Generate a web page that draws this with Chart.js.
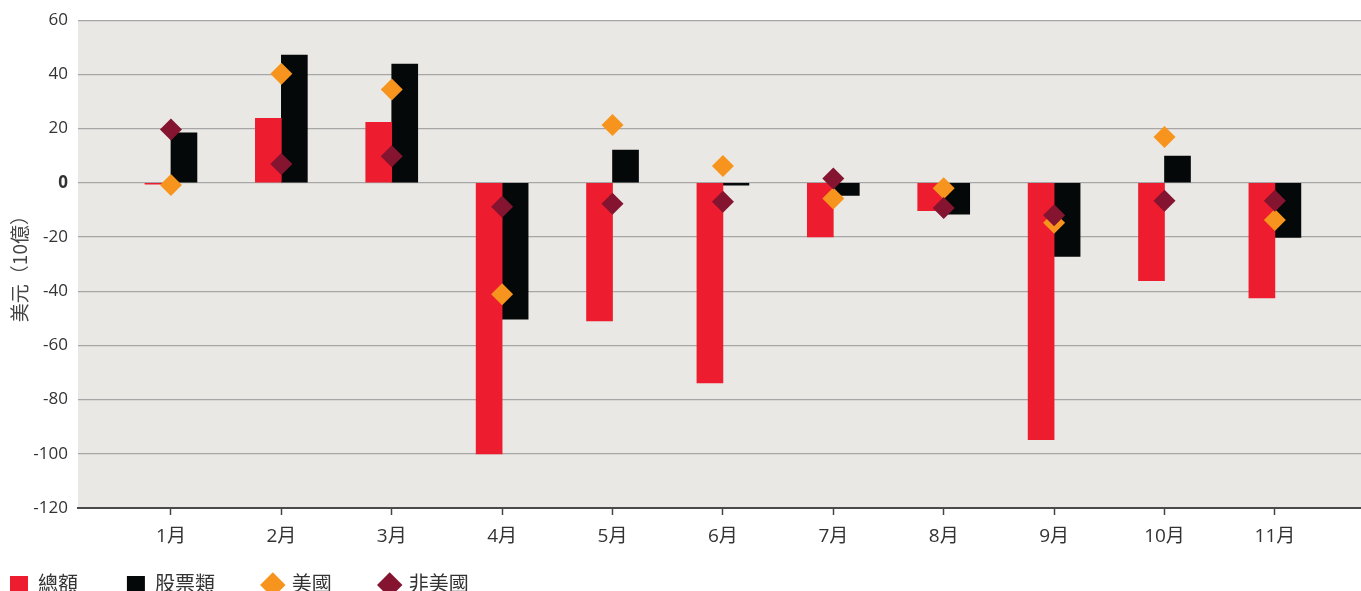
<!DOCTYPE html>
<html>
<head>
<meta charset="utf-8">
<script src="https://cdn.jsdelivr.net/npm/chart.js@4"></script>
<style>
  html, body { margin: 0; padding: 0; background: #fff; overflow: hidden; }
  #myChart { position: absolute; left: 0; top: 0; }
</style>
</head>
<body>
<canvas id="myChart" width="1361" height="605"></canvas>
<script>
var months = ["1月", "2月", "3月", "4月", "5月", "6月", "7月", "8月", "9月", "10月", "11月"];
var totalValues = [-0.5, 23.8, 22.3, -100, -51, -73.8, -20, -10.3, -94.8, -36.1, -42.5];
var equityValues = [18.4, 47.1, 43.8, -50.3, 12.1, -0.9, -4.7, -11.6, -27.2, 9.9, -20.2];
var usValues = [-0.8, 40.2, 34.4, -41.1, 21.3, 6.2, -5.8, -2, -14.7, 16.9, -13.7];
var nonUsValues = [19.7, 6.9, 9.8, -8.8, -7.7, -7, 1.6, -9.3, -12, -6.6, -6.6];
var yTicks = [60, 40, 20, 0, -20, -40, -60, -80, -100, -120];

function toPoints(values) {
  return values.map(function (v, i) { return { x: i + 1, y: v }; });
}

Chart.defaults.font.family = '"Open Sans", "Noto Sans CJK TC", sans-serif';
Chart.defaults.color = "#333333";

// grey plot background
var plotBg = {
  id: "plotBg",
  beforeDraw: function (chart) {
    var a = chart.chartArea, ctx = chart.ctx;
    ctx.save();
    ctx.fillStyle = "#EAE8E5";
    ctx.fillRect(a.left, a.top, a.right - a.left, a.bottom - a.top);
    ctx.restore();
  }
};

new Chart("myChart", {
  type: "bar",
  data: {
    datasets: [{
      label: "總額",
      data: toPoints(totalValues),
      backgroundColor: "#ED1C2E",
      pointStyle: "rect",
      barThickness: 26,
      order: 3
    }, {
      label: "股票類",
      data: toPoints(equityValues),
      backgroundColor: "#050808",
      pointStyle: "rect",
      barThickness: 26,
      order: 3
    }, {
      type: "scatter",
      label: "美國",
      data: toPoints(usValues),
      backgroundColor: "#F7941D",
      borderWidth: 0,
      pointStyle: "rectRot",
      pointRadius: 11,
      order: 1
    }, {
      type: "scatter",
      label: "非美國",
      data: toPoints(nonUsValues),
      backgroundColor: "#84142F",
      borderWidth: 0,
      pointStyle: "rectRot",
      pointRadius: 11,
      order: 0
    }]
  },
  options: {
    responsive: false,
    animation: false,
    layout: { autoPadding: false, padding: { top: 17, left: 0, right: 0, bottom: 0 } },
    scales: {
      x: {
        type: "linear",
        offset: false,
        min: 0.158,
        max: 11.78,
        afterBuildTicks: function (scale) {
          scale.ticks = months.map(function (m, i) { return { value: i + 1 }; });
        },
        afterFit: function (scale) {
          scale.height = 57;
          scale.paddingLeft = 0;
          scale.paddingRight = 0;
        },
        ticks: {
          padding: 10,
          font: { size: 19 },
          color: "#333333",
          callback: function (v) { return months[v - 1]; }
        },
        grid: {
          offset: false,
          drawOnChartArea: false,
          drawTicks: true,
          tickLength: 7,
          tickColor: "#444444",
          tickWidth: 1.5
        },
        border: { display: true, color: "#4a4a4a", width: 2 }
      },
      y: {
        min: -120,
        max: 60,
        afterBuildTicks: function (scale) {
          scale.ticks = yTicks.map(function (v) { return { value: v }; });
        },
        afterFit: function (scale) { scale.width = 78; },
        ticks: {
          padding: 10,
          color: "#333333",
          font: function (ctx) {
            return { size: 17, weight: ctx.tick && ctx.tick.value === 0 ? "bold" : "normal" };
          }
        },
        grid: {
          color: "#A6A6A6",
          lineWidth: 1.3,
          drawTicks: false
        },
        border: { display: false },
        title: {
          display: true,
          text: "美元（10億）",
          font: { size: 19, family: '"Noto Sans CJK TC", sans-serif' },
          color: "#444444",
          padding: { top: 8, bottom: 0 }
        }
      }
    },
    plugins: {
      tooltip: { enabled: false },
      legend: {
        position: "bottom",
        align: "start",
        labels: {
          usePointStyle: true,
          boxWidth: 18,
          boxHeight: 18,
          padding: 10,
          color: "#333333",
          font: { size: 20 },
          sort: function (a, b) { return a.datasetIndex - b.datasetIndex; },
          generateLabels: function (chart) {
            var items = Chart.defaults.plugins.legend.labels.generateLabels(chart);
            items.forEach(function (it) { it.text = it.text + "\u3000   \u2009"; });
            return items;
          }
        }
      }
    }
  },
  plugins: [plotBg]
});
</script>
</body>
</html>
